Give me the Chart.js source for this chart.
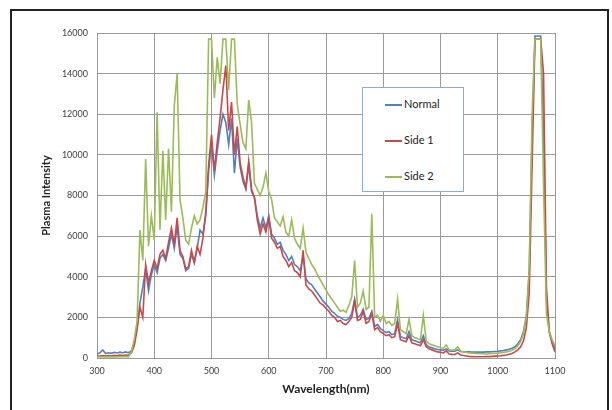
<!DOCTYPE html>
<html>
<head>
<meta charset="utf-8">
<script src="https://cdn.jsdelivr.net/npm/chart.js@4.4.1/dist/chart.umd.min.js"></script>
<style>
  html, body { margin: 0; padding: 0; background: #fff; }
  #wrap { position: relative; width: 612px; height: 410px; overflow: hidden; }
  #frame { position: absolute; left: 10px; top: 9px; width: 595px; height: 420px; border: 2px solid #222; pointer-events: none; }
  #legend { position: absolute; left: 362px; top: 87px; width: 100px; height: 103px; border: 1px solid #8eaadb; background: #fff; font: 11px Lato, sans-serif; color: #222; }
  .item { position: absolute; left: 22px; height: 14px; line-height: 14px; white-space: nowrap; }
  .item i { display: inline-block; width: 17px; height: 2px; vertical-align: middle; margin-right: 2px; }
</style>
</head>
<body>
<div id="wrap">
  <canvas id="spectrum" width="612" height="410"></canvas>
  <div id="legend"></div>
  <div id="frame"></div>
</div>
<script>
// wavelengths (nm), 5 nm steps
const WAVELENGTHS = [
  300, 305, 310, 315, 320, 325, 330, 335, 340, 345,
  350, 355, 360, 365, 370, 375, 380, 385, 390, 395,
  400, 405, 410, 415, 420, 425, 430, 435, 440, 445,
  450, 455, 460, 465, 470, 475, 480, 485, 490, 495,
  500, 505, 510, 515, 520, 525, 530, 535, 540, 545,
  550, 555, 560, 565, 570, 575, 580, 585, 590, 595,
  600, 605, 610, 615, 620, 625, 630, 635, 640, 645,
  650, 655, 660, 665, 670, 675, 680, 685, 690, 695,
  700, 705, 710, 715, 720, 725, 730, 735, 740, 745,
  750, 755, 760, 765, 770, 775, 780, 785, 790, 795,
  800, 805, 810, 815, 820, 825, 830, 835, 840, 845,
  850, 855, 860, 865, 870, 875, 880, 885, 890, 895,
  900, 905, 910, 915, 920, 925, 930, 935, 940, 945,
  950, 955, 960, 965, 970, 975, 980, 985, 990, 995,
  1000, 1005, 1010, 1015, 1020, 1025, 1030, 1035, 1040, 1045,
  1050, 1055, 1060, 1065, 1070, 1075, 1080, 1085, 1090, 1095,
  1100
];

const NORMAL = [
  200, 250, 400, 220, 260, 230, 280, 250, 290, 260,
  300, 260, 350, 700, 1500, 2700, 3500, 4400, 3300, 4100,
  4600, 4200, 4900, 5100, 4800, 5400, 6100, 5400, 6500, 5100,
  4900, 4300, 4400, 5100, 4700, 5400, 6300, 6100, 7000, 9200,
  10600, 9000, 10200, 11200, 12000, 11600, 10500, 11800, 9100, 10800,
  9400, 8700, 8300, 9500, 8200, 7900, 7000, 6400, 6900, 6400,
  7000, 6100, 5900, 5600, 5700, 5300, 5100, 4800, 5000, 4600,
  4500, 4300, 5000, 3900, 3700, 3600, 3400, 3200, 3000, 2800,
  2650, 2500, 2300, 2200, 2050, 2000, 1900, 1850, 1950, 2200,
  2900, 2000, 2100, 2400, 1900, 1950, 2300, 1550, 1650, 1450,
  1350, 1250, 1300, 1150, 1200, 1900, 1050, 1000, 950, 1300,
  900, 850, 800, 750, 1100, 650, 550, 500, 450, 420,
  400, 380, 450, 350, 340, 330, 400, 320, 310, 300,
  300, 290, 290, 290, 290, 290, 300, 300, 310, 320,
  330, 350, 370, 400, 430, 480, 550, 700, 900, 1300,
  2100, 4200, 11000, 15850, 15850, 15850, 11000, 2800, 1300, 800,
  450
];

const SIDE_1 = [
  100, 100, 120, 100, 120, 100, 130, 110, 140, 120,
  150, 130, 250, 600, 1400, 2500, 2000, 4600, 3700, 4300,
  4800, 4400, 5100, 5300, 4900, 5700, 6400, 5600, 6900, 5300,
  5000, 4400, 4500, 5300, 4700, 5500, 5100, 5900, 7200, 9500,
  11000, 9200, 10600, 11800, 13200, 14400, 11200, 12600, 10000, 11400,
  9600, 8900, 8400, 9700, 8300, 7900, 6800, 6100, 6600, 6200,
  6900, 5900, 5700, 5400, 5500, 5000, 4800, 4500, 4700, 4300,
  4200, 4000, 5300, 3600, 3400, 3300, 3100, 2900, 2700, 2600,
  2450, 2300, 2100, 2000, 1800, 1850, 1700, 1650, 1800, 2000,
  2800, 1850, 1900, 2300, 1700, 1800, 2200, 1400, 1500, 1300,
  1200, 1100, 1150, 1000, 1050, 1700, 900, 850, 800, 1100,
  750, 700, 650, 600, 900, 550, 450, 400, 350, 300,
  280, 250, 350, 200, 180, 170, 250, 150, 120, 100,
  80, 70, 60, 60, 60, 60, 70, 70, 80, 90,
  100, 110, 130, 150, 180, 220, 300, 400, 550, 850,
  1500, 3200, 9500, 15700, 15700, 15700, 14000, 3500, 1300, 700,
  300
];

const SIDE_2 = [
  50, 50, 60, 50, 60, 50, 60, 50, 70, 60,
  80, 60, 300, 900, 1800, 6300, 4800, 9800, 5500, 7000,
  5800, 12100, 6300, 10200, 6800, 10300, 7200, 12400, 14000, 7800,
  6900, 5800, 5600, 6400, 7000, 6600, 6800, 7400, 8200, 15700,
  15700, 12800, 14800, 13500, 15700, 15700, 13200, 15700, 15700, 12500,
  11500, 10600, 10300, 12700, 11600, 8600, 8300, 8000, 8400, 9100,
  8200, 7800, 6900, 6700, 6500, 6950, 6200, 6000, 6800, 5900,
  5600, 5400, 6400, 5200, 4900, 4600, 4400, 4100, 3850, 3600,
  3350, 3100, 2900, 2700, 2500, 2300, 2350, 2250, 2600, 3000,
  4800, 2500, 2700, 3300, 2400, 2500, 7100, 2000, 2100, 1800,
  2100, 1700, 1800, 1600, 1700, 2900, 1400, 1300, 1200, 1900,
  1100, 1000, 950, 900, 2100, 850, 700, 650, 600, 550,
  500, 480, 650, 400, 380, 400, 550, 350, 300, 280,
  250, 240, 230, 220, 220, 210, 200, 210, 220, 230,
  240, 260, 280, 300, 330, 380, 450, 600, 800, 1200,
  2000, 4500, 12000, 15700, 15700, 15700, 8500, 2200, 1300, 900,
  600
];

const SERIES_NAMES = ['Normal', 'Side 1', 'Side 2'];
const SERIES_COLORS = ['#4f81bd', '#c9484a', '#9bbb59'];
const X_TICKS = [300, 400, 500, 600, 700, 800, 900, 1000, 1100];
const Y_TICKS = [0, 2000, 4000, 6000, 8000, 10000, 12000, 14000, 16000];

const FONT = 'Lato, "Open Sans", sans-serif';

function toPoints(values) {
    return WAVELENGTHS.map((w, i) => ({ x: w, y: values[i] }));
}

const allSeries = [NORMAL, SIDE_1, SIDE_2];
const datasets = allSeries.map((vals, i) => ({
    label: SERIES_NAMES[i],
    data: toPoints(vals),
    borderColor: SERIES_COLORS[i],
    backgroundColor: SERIES_COLORS[i],
    borderWidth: 1.6,
    pointRadius: 0,
    tension: 0,
    order: 3 - i   // green drawn last, on top
}));

new Chart(document.getElementById('spectrum'), {
    type: 'line',
    data: { datasets },
    options: {
        responsive: false,
        animation: false,
        events: [],
        layout: { padding: { left: 36, right: 57, top: 33, bottom: 0 } },
        plugins: { legend: { display: false }, tooltip: { enabled: false } },
        scales: {
            x: {
                type: 'linear',
                min: X_TICKS[0],
                max: X_TICKS[X_TICKS.length - 1],
                afterBuildTicks: (axis) => { axis.ticks = X_TICKS.map(v => ({ value: v })); },
                afterFit: (axis) => { axis.height = 52; },
                grid: { color: '#9a9a9a', drawTicks: false },
                border: { color: '#9a9a9a' },
                ticks: {
                    color: '#404040', font: { family: FONT, size: 9 }, padding: 8, maxRotation: 0,
                    callback: (v) => String(v)
                },
                title: {
                    display: true,
                    text: 'Wavelength(nm)',
                    color: '#222',
                    font: { family: FONT, size: 12, weight: 'bold' },
                    padding: { top: 0, bottom: 14 }
                }
            },
            y: {
                min: Y_TICKS[0],
                max: Y_TICKS[Y_TICKS.length - 1],
                afterBuildTicks: (axis) => { axis.ticks = Y_TICKS.map(v => ({ value: v })); },
                afterFit: (axis) => { axis.width = 61; },
                grid: { color: '#9a9a9a', drawTicks: false },
                border: { color: '#9a9a9a' },
                ticks: {
                    color: '#404040', font: { family: FONT, size: 9 }, padding: 9,
                    callback: (v) => String(v)
                },
                title: {
                    display: true,
                    text: 'Plasma Intensity',
                    color: '#222',
                    font: { family: FONT, size: 11, weight: 'bold' },
                    padding: { top: 4, bottom: 0 }
                }
            }
        }
    }
});

// legend box sits inside the plot, like the original
const legend = document.getElementById('legend');
const legendTops = [9, 45, 81];
SERIES_NAMES.forEach((name, i) => {
    const item = document.createElement('div');
    item.className = 'item';
    item.style.top = legendTops[i] + 'px';
    item.innerHTML = `<i style="background:${SERIES_COLORS[i]}"></i>${name}`;
    legend.appendChild(item);
});
</script>
</body>
</html>
